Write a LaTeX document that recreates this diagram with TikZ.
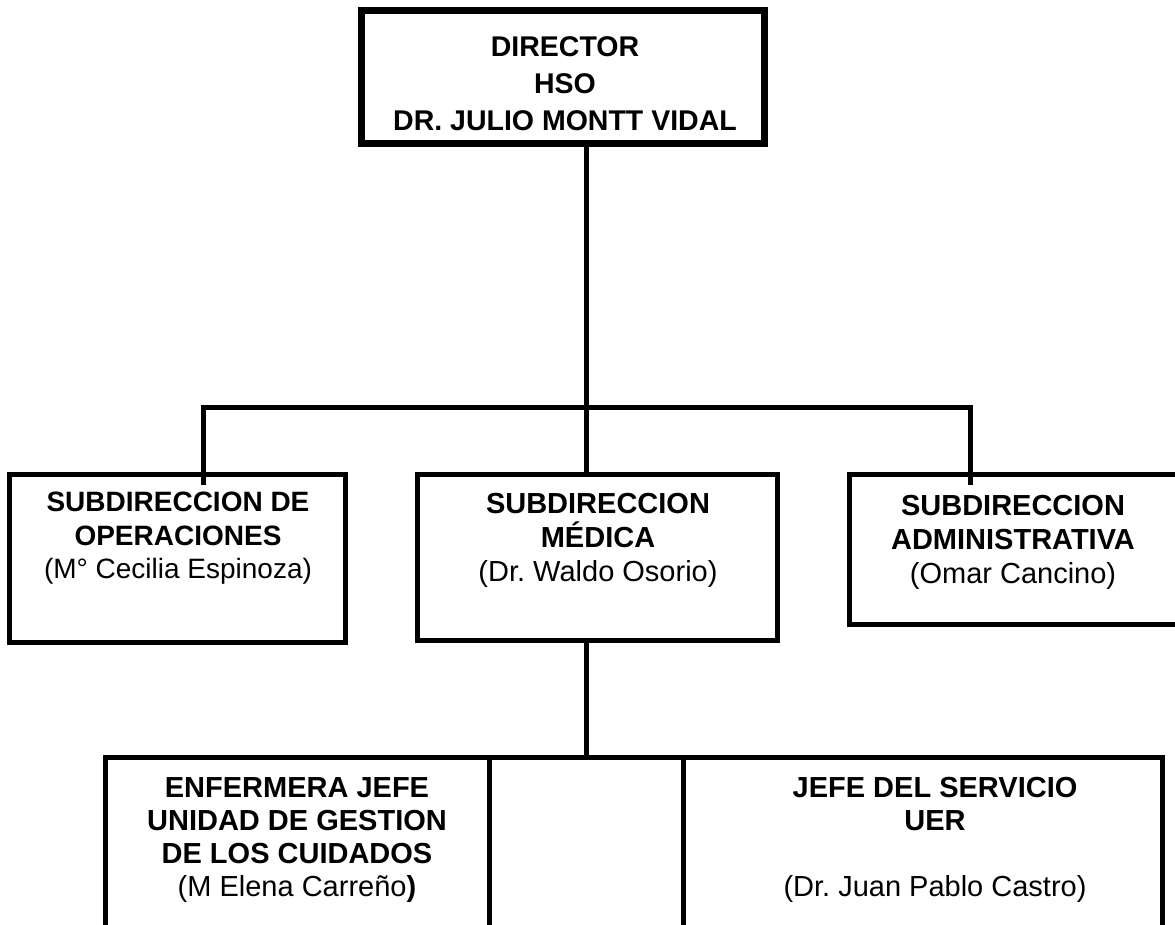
\documentclass[tikz,border=0pt]{standalone}
\usepackage{fontspec}
\setmainfont{Liberation Sans}
\usetikzlibrary{positioning}
\frenchspacing

\begin{document}
\begin{tikzpicture}[x=1pt, y=-1pt,
    unitbox/.style={draw, rectangle, line width=5pt, inner sep=0pt, outer sep=0pt},
    headbox/.style={unitbox, line width=7pt},
    boxtext/.style={align=center, inner sep=0pt, anchor=north, font=\fontsize{28}{33.5}\selectfont},
    link/.style={line width=5pt}]
    % Fix the frame of the chart
    \path[use as bounding box, clip] (0,0) rectangle (1175,924);

    % Director on top
    \node[headbox, minimum width=403pt, minimum height=133pt] (dir) at (563,77) {};
    \node[boxtext, font=\fontsize{28.5}{37}\selectfont] (dirtxt) at (565,36)
        {\textbf{DIRECTOR}\\\textbf{HSO}\\\textbf{DR. JULIO MONTT VIDAL}};

    % The three subdirections
    \node[unitbox, minimum width=336pt, minimum height=168pt] (ops) at (177.5,558.5) {};
    \node[unitbox, minimum width=360pt, minimum height=166pt] (med) at (597.5,557.5) {};
    \node[unitbox, minimum width=340pt, minimum height=150pt] (adm) at (1019.5,549.5) {};
    \node[boxtext] (opstxt) at (178,492)
        {\textbf{SUBDIRECCION DE}\\\textbf{OPERACIONES}\\(M° Cecilia Espinoza)};
    \node[boxtext, font=\fontsize{29}{34}\selectfont] (medtxt) at (598,493)
        {\textbf{SUBDIRECCION}\\\textbf{MÉDICA}\\(Dr. Waldo Osorio)};
    \node[boxtext, font=\fontsize{29}{34}\selectfont] (admtxt) at (1013,495)
        {\textbf{SUBDIRECCION}\\\textbf{ADMINISTRATIVA}\\(Omar Cancino)};

    % Units under the medical subdirection
    \node[unitbox, minimum width=384pt, minimum height=200pt] (uge) at (297.5,857.5) {};
    \node[unitbox, minimum width=479pt, minimum height=200pt] (uer) at (923,857.5) {};
    \node[boxtext, font=\fontsize{29}{33}\selectfont] (ugetxt) at (297,777)
        {\textbf{ENFERMERA JEFE}\\\textbf{UNIDAD DE GESTION}\\\textbf{DE LOS CUIDADOS}\\(M Elena Carreño\textbf{)}};
    \node[boxtext, font=\fontsize{29}{33}\selectfont] (uertxt) at (935,777)
        {\textbf{JEFE DEL SERVICIO}\\\textbf{UER}\\[33pt](Dr. Juan Pablo Castro)};

    % Connect everything
    \coordinate (bus) at (586,407);
    \coordinate (busl) at (203,407);
    \coordinate (busr) at (970,407);
    \coordinate (opsin) at (203,485);
    \coordinate (admin) at (970,485);
    \draw[link] (dir.south -| bus) -- (bus);
    \draw[link] (opsin) -- (busl) -- (busr) -- (admin);
    \draw[link] (bus) -- (bus |- med.north);
    \draw[link] (med.south -| bus) -- (bus |- uge.north);
    \draw[link] (uge.north east) -- (uer.north west);
\end{tikzpicture}
\end{document}
